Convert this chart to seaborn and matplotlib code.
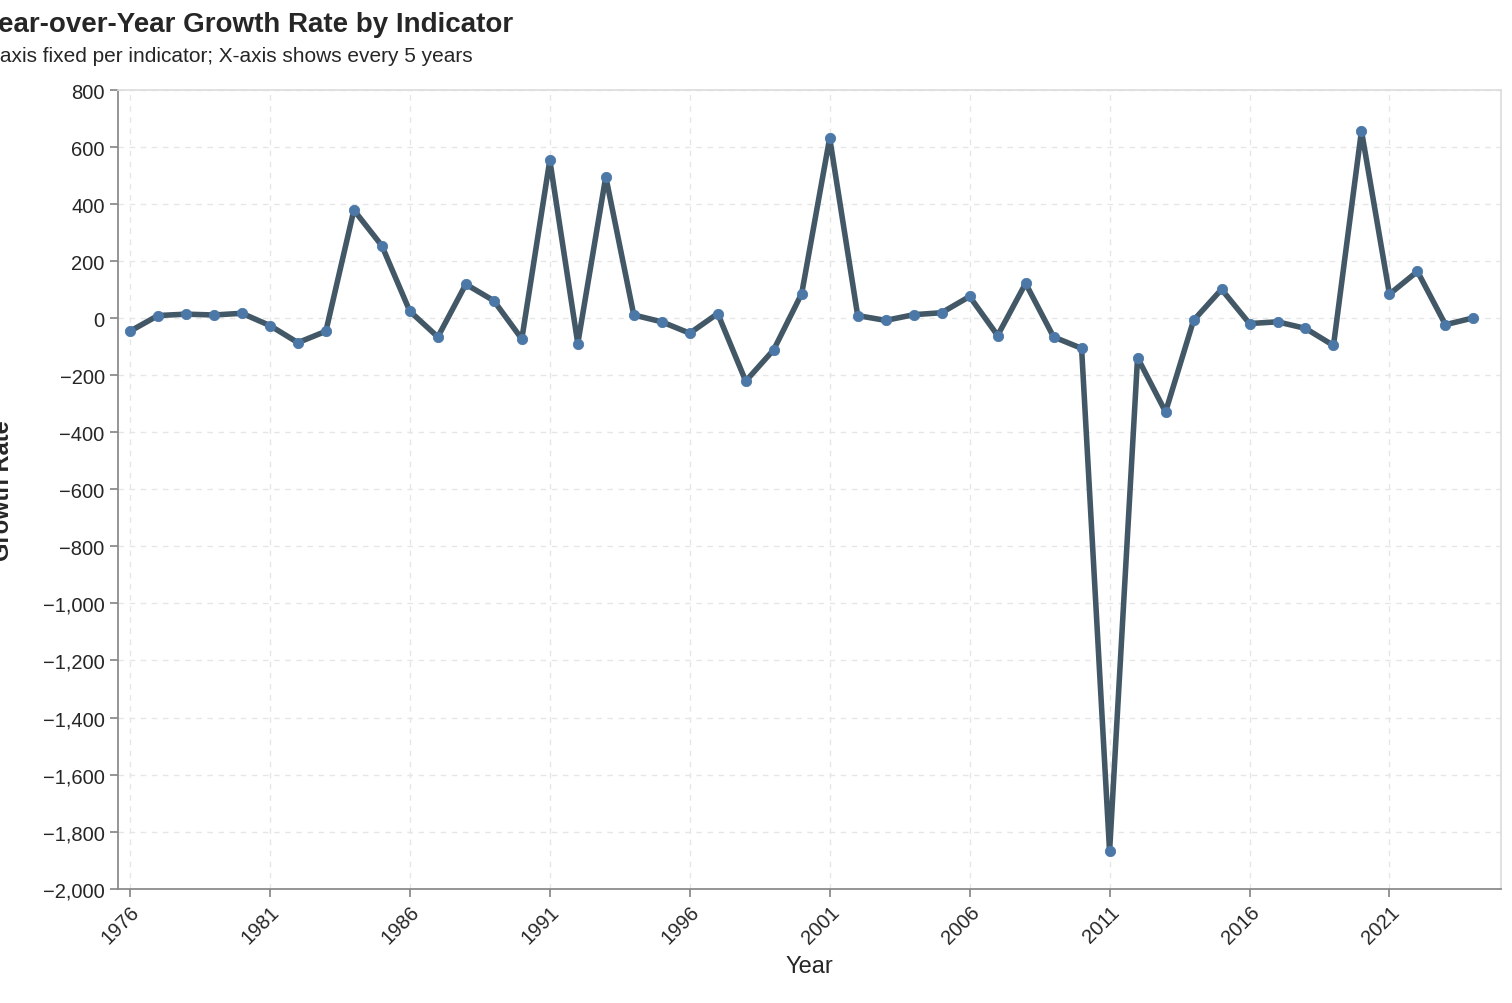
import numpy as np
import pandas as pd
import matplotlib
matplotlib.use("Agg")
import matplotlib.pyplot as plt
import seaborn as sns

years = list(range(1976, 2025))
growth = [-45, 10, 15, 12, 18, -25, -85, -45, 380, 255,
          25, -65, 120, 62, -72, 555, -88, 497, 12, -12,
          -52, 17, -220, -110, 87, 633, 10, -7, 13, 20,
          77, -60, 123, -65, -105, -1870, -138, -328, -7, 102,
          -18, -12, -35, -95, 658, 85, 165, -22, 2]
tick_years = list(range(1976, 2025, 5))

df = pd.DataFrame({"Year": years, "Growth Rate": growth})

sns.set_theme(style="white")
plt.rcParams["font.family"] = ["Liberation Sans", "DejaVu Sans"]

fig = plt.figure(figsize=(15.12, 10.04), dpi=100)
ax = fig.add_axes([0.078, 0.114, 0.915, 0.795])

sns.lineplot(data=df, x="Year", y="Growth Rate", ax=ax, color="#435866", lw=4, zorder=2)
sns.scatterplot(data=df, x="Year", y="Growth Rate", ax=ax, color="#4c78a8", s=55,
                edgecolor="#4c78a8", zorder=3)

ax.set_xlim(1975.57, 2025.0)
ax.set_ylim(-2000, 800)
ax.set_yticks(np.arange(-2000, 801, 200))
ax.yaxis.set_major_formatter(matplotlib.ticker.FuncFormatter(
    lambda v, p: f"{int(v):,}".replace("-", "\u2212")))
ax.set_xticks(tick_years)
ax.set_xticklabels([str(y) for y in tick_years], rotation=45, ha="right",
                   rotation_mode="anchor")
ax.tick_params(axis="both", labelsize=14.5, length=6, color="#888888", direction="out")
ax.tick_params(axis="both", left=True, bottom=True)
ax.grid(True, color="#e6e6e6", ls=(0, (4, 4)), lw=1)
for s in ax.spines.values():
    s.set_color("#dddddd")
ax.spines["left"].set_color("#888888")
ax.spines["bottom"].set_color("#888888")

ax.set_xlabel("Year", fontsize=17, labelpad=6)
ax.set_ylabel("Growth Rate", fontsize=17, fontweight="bold")
ax.yaxis.set_label_coords(-0.075, 0.5)

fig.text(-0.0125, 0.988, "Year-over-Year Growth Rate by Indicator", fontsize=20,
         fontweight="bold", va="top", ha="left")
fig.text(-0.0125, 0.953, "Y-axis fixed per indicator; X-axis shows every 5 years",
         fontsize=15, va="top", ha="left")

fig.savefig("out.png", dpi=100)
